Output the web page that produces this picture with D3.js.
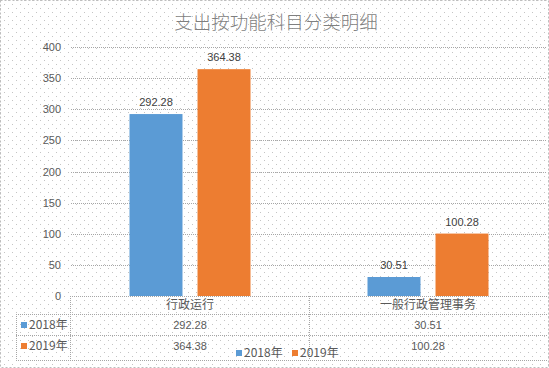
<!DOCTYPE html>
<html><head><meta charset="utf-8">
<script src="https://cdn.jsdelivr.net/npm/d3@7"></script>
<style>html,body{margin:0;padding:0;background:#fff;}svg{display:block;}</style>
</head><body>
<script>
const title = "支出按功能科目分类明细";
const categories = ["行政运行", "一般行政管理事务"];
const seriesNames = ["2018年", "2019年"];
const values2018 = [292.28, 30.51];
const values2019 = [364.38, 100.28];
const yTicks = [0, 50, 100, 150, 200, 250, 300, 350, 400];
const colors = ["#5B9BD5", "#ED7D31"];

(function () {
const W = 549, H = 368;
const seriesValues = [values2018, values2019];
const svg = d3.select("body").append("svg").attr("width", W).attr("height", H);
const defs = svg.append("defs");
const pat = defs.append("pattern").attr("id","dots").attr("width",8).attr("height",8).attr("patternUnits","userSpaceOnUse");
pat.append("rect").attr("x",0).attr("y",0).attr("width",1).attr("height",1).attr("fill","#c4c4c4");
pat.append("rect").attr("x",4).attr("y",4).attr("width",1).attr("height",1).attr("fill","#c4c4c4");
svg.append("rect").attr("width",W).attr("height",H).attr("fill","#fff");
svg.append("rect").attr("width",W).attr("height",H).attr("fill","url(#dots)");
svg.append("rect").attr("x",0.5).attr("y",0.5).attr("width",W-1).attr("height",H-1)
  .attr("fill","none").attr("stroke","#bdbdbd").attr("stroke-dasharray","2,2");

const pLeft = 71, pRight = 547, pTop = 47, pBottom = 296;
const y = d3.scaleLinear().domain([0, 400]).range([pBottom, pTop]);
const x0 = d3.scaleBand().domain(categories).range([pLeft, pRight]);
const bw = x0.bandwidth();
const x1 = d3.scaleBand().domain(seriesNames).range([58.5, bw - 58.5]).paddingInner(0.221);

const numFont = "'Liberation Sans', Arial, sans-serif";
const cjkFont = "'Noto Sans CJK SC', sans-serif";

// title
svg.append("text").attr("x", 276).attr("y", 29).attr("text-anchor","middle")
  .attr("font-family", cjkFont).attr("font-size", 18.5).attr("font-weight", 300)
  .attr("fill", "#7f7f7f").text(title);

// gridlines
const grid = svg.append("g");
grid.selectAll("line").data(yTicks.filter(d => d > 0)).join("line")
  .attr("x1", pLeft).attr("x2", pRight)
  .attr("y1", d => Math.round(y(d)) + 0.5).attr("y2", d => Math.round(y(d)) + 0.5)
  .attr("stroke", "#a6a6a6").attr("stroke-dasharray", "1,1");

// y axis labels
const yAxis = d3.axisLeft(y).tickValues(yTicks).tickSize(0).tickPadding(0);
const ya = svg.append("g").attr("transform", `translate(61,0)`).call(yAxis);
ya.select(".domain").remove();
ya.selectAll("text").attr("font-family", numFont).attr("font-size", 11).attr("fill", "#595959");

// bars
const groups = svg.append("g").selectAll("g").data(categories).join("g")
  .attr("transform", d => `translate(${x0(d)},0)`);
groups.selectAll("rect").data((c, i) => seriesNames.map((s, j) => ({s, v: seriesValues[j][i], j})))
  .join("rect")
  .attr("x", d => x1(d.s)).attr("width", x1.bandwidth())
  .attr("y", d => y(d.v)).attr("height", d => y(0) - y(d.v))
  .attr("fill", d => colors[d.j]);
groups.selectAll("text.lbl").data((c, i) => seriesNames.map((s, j) => ({s, v: seriesValues[j][i], j})))
  .join("text").attr("class","lbl")
  .attr("x", d => x1(d.s) + x1.bandwidth()/2).attr("y", d => y(d.v) - 8)
  .attr("text-anchor","middle").attr("font-family", numFont).attr("font-size", 11)
  .attr("fill", "#404040").text(d => d.v.toFixed(2));

// data table
const tbl = svg.append("g").attr("stroke", "#a6a6a6").attr("stroke-dasharray", "1,1");
const rowY = [296, 314, 335, 360];
const tLeft = 16;
tbl.append("line").attr("x1", pLeft - 1).attr("x2", pRight).attr("y1", rowY[0] + 0.5).attr("y2", rowY[0] + 0.5);
rowY.slice(1).forEach(r => tbl.append("line").attr("x1", tLeft).attr("x2", pRight).attr("y1", r + 0.5).attr("y2", r + 0.5));
tbl.append("line").attr("x1", tLeft + 0.5).attr("x2", tLeft + 0.5).attr("y1", rowY[1]).attr("y2", rowY[3]);
[pLeft - 1, x0(categories[1])].forEach(xx => tbl.append("line").attr("x1", xx + 0.5).attr("x2", xx + 0.5).attr("y1", rowY[0]).attr("y2", rowY[3]));

// category labels
svg.append("g").selectAll("text").data(categories).join("text")
  .attr("x", d => x0(d) + bw/2).attr("y", 305).attr("dy", "0.35em").attr("text-anchor","middle")
  .attr("font-family", cjkFont).attr("font-size", 12).attr("fill", "#595959").text(d => d);

// series rows
const rowsCenter = [325, 346];
seriesNames.forEach((s, j) => {
  svg.append("rect").attr("x", 21).attr("y", rowsCenter[j] - 3).attr("width", 6).attr("height", 6).attr("fill", colors[j]);
  svg.append("text").attr("x", 29).attr("y", rowsCenter[j]).attr("dy","0.35em")
    .attr("font-family", cjkFont).attr("font-size", 12).attr("fill", "#595959").text(s);
  svg.append("g").selectAll("text").data(categories).join("text")
    .attr("x", d => x0(d) + bw/2).attr("y", rowsCenter[j]).attr("dy","0.35em").attr("text-anchor","middle")
    .attr("font-family", numFont).attr("font-size", 11).attr("fill", "#595959")
    .text((d, i) => seriesValues[j][i].toFixed(2));
});

// legend
const legX = [236, 292];
seriesNames.forEach((s, j) => {
  svg.append("rect").attr("x", legX[j]).attr("y", 350).attr("width", 6).attr("height", 6).attr("fill", colors[j]);
  svg.append("text").attr("x", legX[j] + 8).attr("y", 353).attr("dy","0.35em")
    .attr("font-family", cjkFont).attr("font-size", 12).attr("fill", "#595959").text(s);
});
})();
</script>
</body></html>
